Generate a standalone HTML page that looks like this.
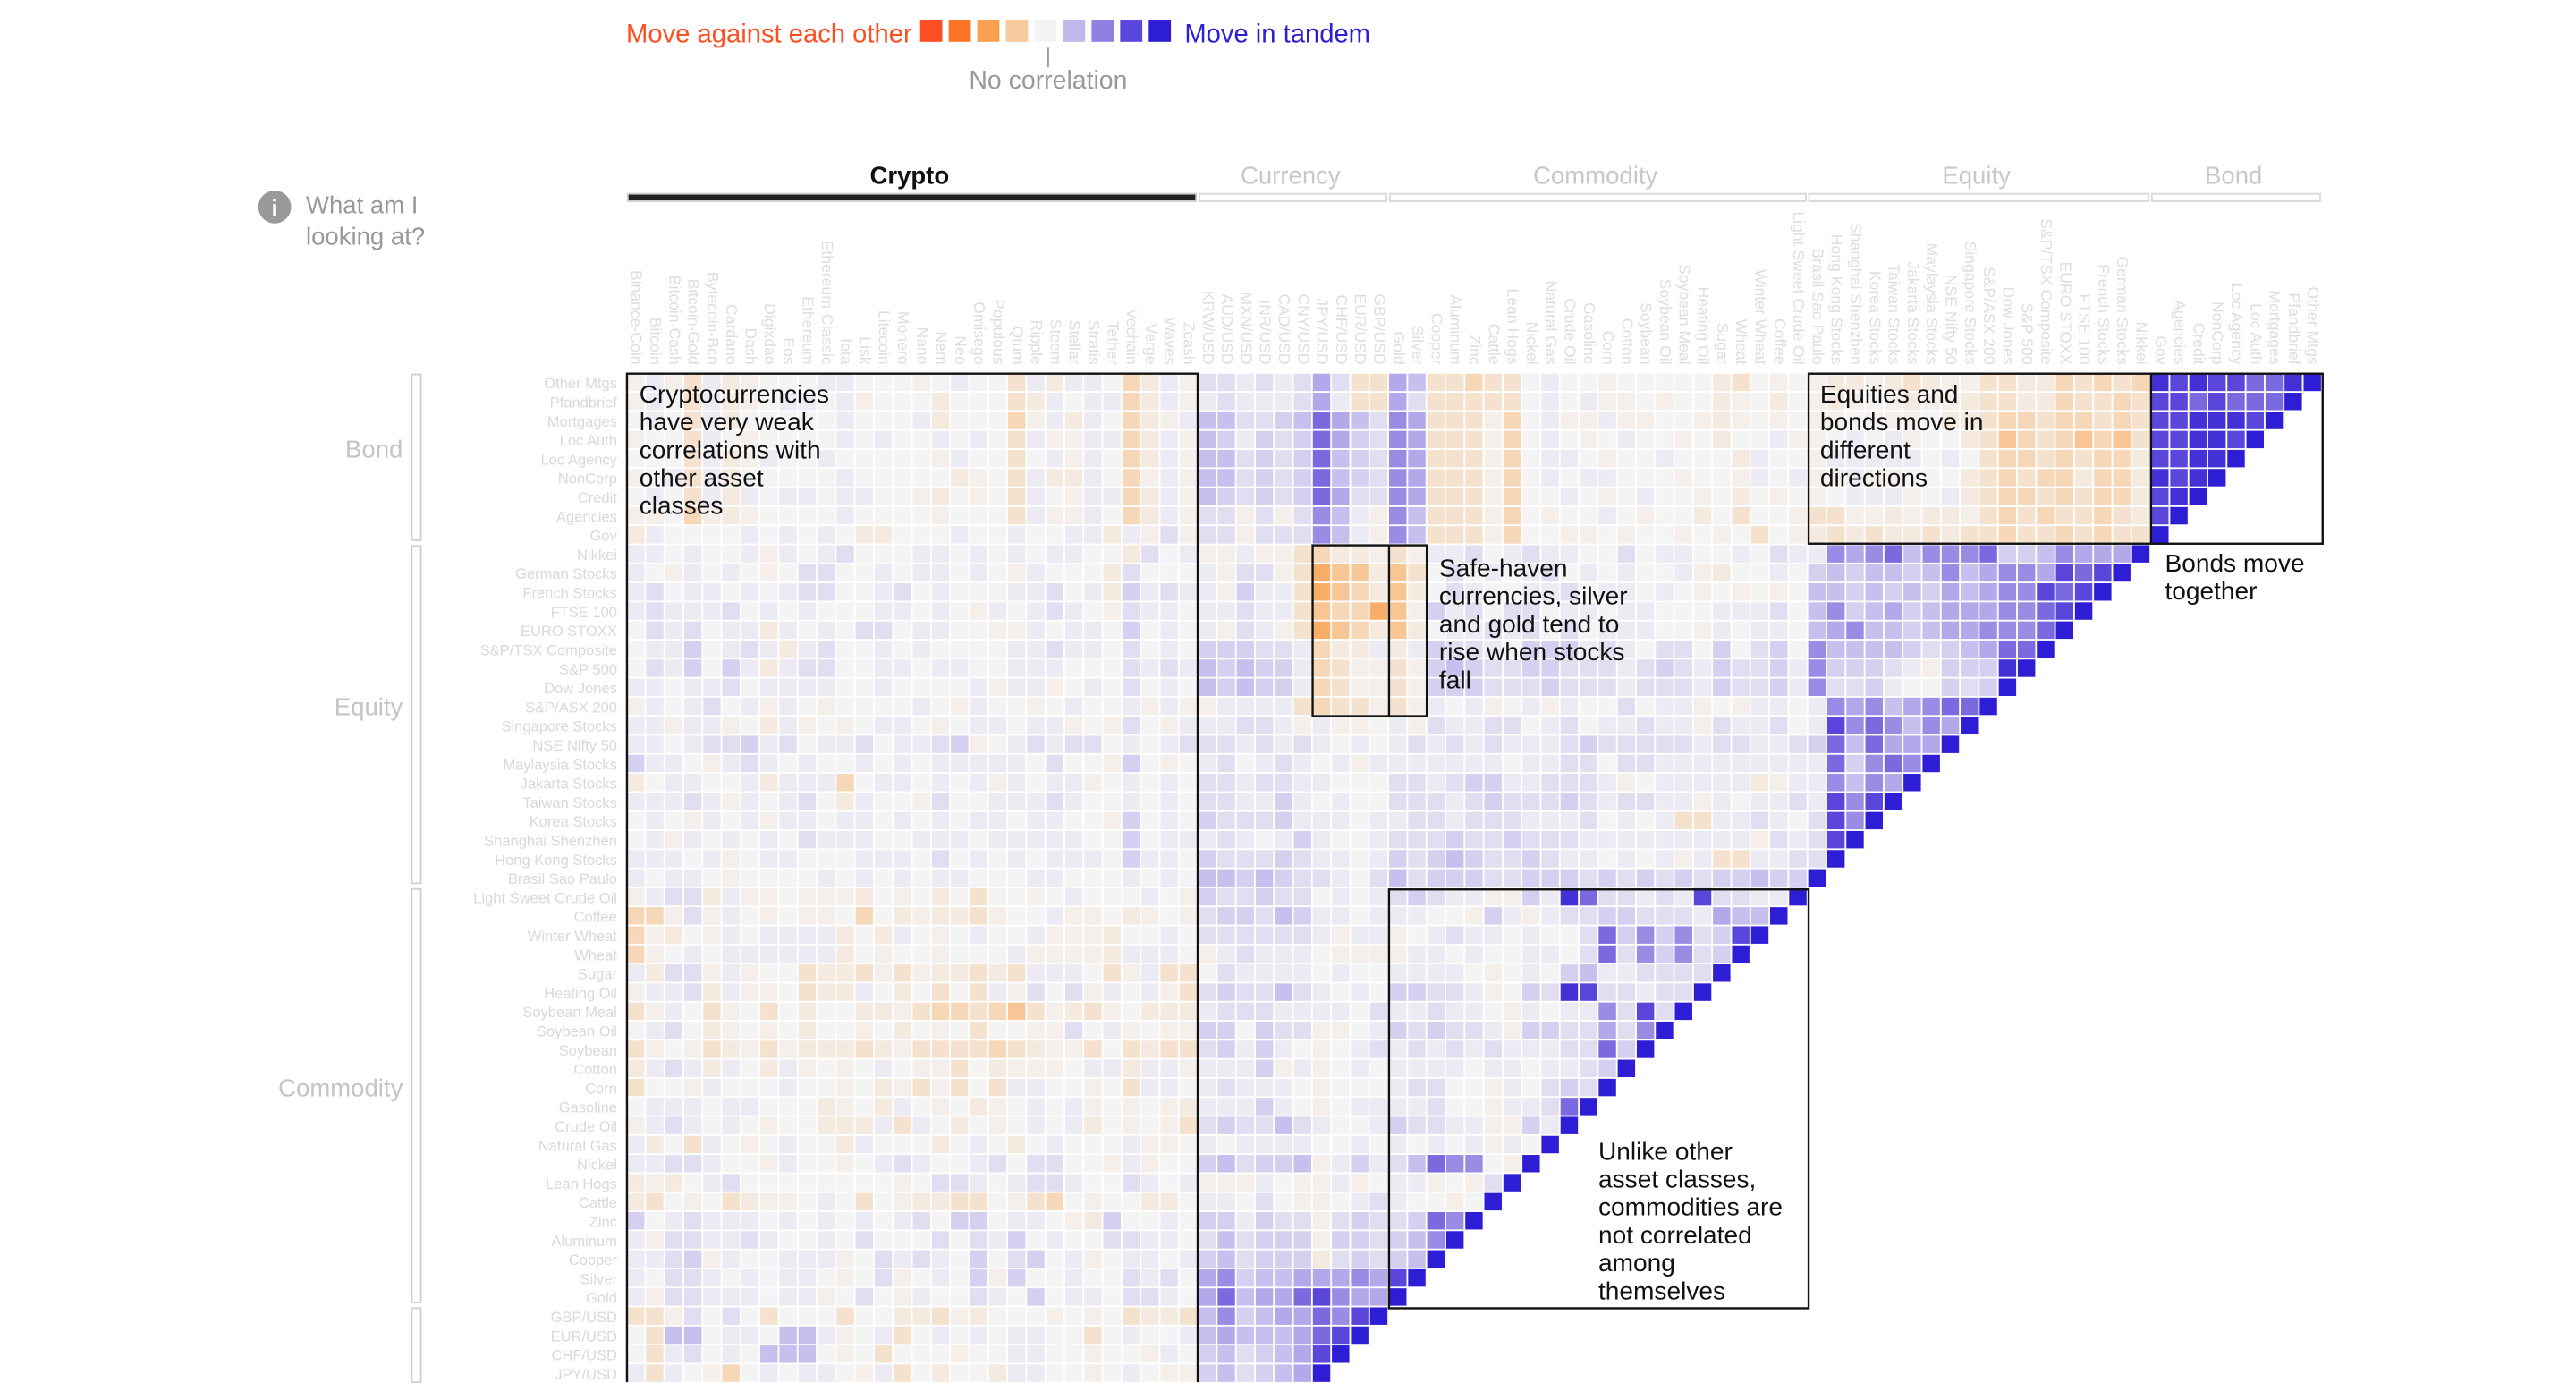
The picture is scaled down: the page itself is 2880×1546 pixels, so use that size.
<!DOCTYPE html>
<html><head><meta charset="utf-8"><style>
html,body{margin:0;padding:0;background:#fff;overflow:hidden;}
svg{display:block;font-family:"Liberation Sans",Arial,sans-serif;overflow:hidden;}
</style></head><body>
<svg id="chart" width="2880" height="1546" viewBox="0 0 1568 842" xmlns="http://www.w3.org/2000/svg">
<rect x="0" y="0" width="1568" height="842" fill="#fff"/>
<g>
<text x="381" y="26" font-size="15.9" fill="#fe4f22">Move against each other</text>
<g id="legendSwatches"></g>
<text x="721" y="26" font-size="15.9" fill="#2d1dd5">Move in tandem</text>
<line x1="638" y1="29" x2="638" y2="41" stroke="#999" stroke-width="1"/>
<text x="638" y="54" font-size="15.5" fill="#999" text-anchor="middle">No correlation</text>
</g>
<g>
<circle cx="167" cy="126" r="10" fill="#999"/>
<text x="167" y="131.5" font-size="14" font-weight="bold" fill="#fff" text-anchor="middle">i</text>
<text x="186" y="130" font-size="15" fill="#999">What am I</text>
<text x="186" y="149" font-size="15" fill="#999">looking at?</text>
</g>
<g id="tabs"></g>
<g id="colLabels"></g>
<g id="rowLabels"></g>
<g id="groupLabels"></g>
<g id="cells"></g>
<g id="boxes" fill="none" stroke="#111" stroke-width="1.3">
<path d="M381.5 841.5 V227.5 H729 V841.5"/>
<rect x="1101" y="227.5" width="313" height="103.5"/>
<line x1="1309.5" y1="227.5" x2="1309.5" y2="331"/>
<rect x="799" y="332" width="69.5" height="104"/>
<line x1="845.5" y1="332" x2="845.5" y2="436"/>
<rect x="845.5" y="541.5" width="255.5" height="255"/>
</g>
<g font-size="15.3" fill="#111">
<text x="389" y="245"><tspan x="389">Cryptocurrencies</tspan><tspan x="389" dy="17">have very weak</tspan><tspan x="389" dy="17">correlations with</tspan><tspan x="389" dy="17">other asset</tspan><tspan x="389" dy="17">classes</tspan></text>
<text x="1108" y="245"><tspan x="1108">Equities and</tspan><tspan x="1108" dy="17">bonds move in</tspan><tspan x="1108" dy="17">different</tspan><tspan x="1108" dy="17">directions</tspan></text>
<text x="1318" y="348"><tspan x="1318">Bonds move</tspan><tspan x="1318" dy="17">together</tspan></text>
<text x="876" y="351"><tspan x="876">Safe-haven</tspan><tspan x="876" dy="17">currencies, silver</tspan><tspan x="876" dy="17">and gold tend to</tspan><tspan x="876" dy="17">rise when stocks</tspan><tspan x="876" dy="17">fall</tspan></text>
<text x="973" y="706"><tspan x="973">Unlike other</tspan><tspan x="973" dy="17">asset classes,</tspan><tspan x="973" dy="17">commodities are</tspan><tspan x="973" dy="17">not correlated</tspan><tspan x="973" dy="17">among</tspan><tspan x="973" dy="17">themselves</tspan></text>
</g>
</svg>
<script>
// ---- data ----
const cryptoNames = ["Binance-Coin","Bitcoin","Bitcoin-Cash","Bitcoin-Gold","Bytecoin-Bcn","Cardano","Dash","Digixdao","Eos","Ethereum","Ethereum-Classic","Iota","Lisk","Litecoin","Monero","Nano","Nem","Neo","Omisego","Populous","Qtum","Ripple","Steem","Stellar","Stratis","Tether","Vechain","Verge","Waves","Zcash"];
const currencyNames = ["KRW/USD","AUD/USD","MXN/USD","INR/USD","CAD/USD","CNY/USD","JPY/USD","CHF/USD","EUR/USD","GBP/USD"];
const commodityNames = ["Gold","Silver","Copper","Aluminum","Zinc","Cattle","Lean Hogs","Nickel","Natural Gas","Crude Oil","Gasoline","Corn","Cotton","Soybean","Soybean Oil","Soybean Meal","Heating Oil","Sugar","Wheat","Winter Wheat","Coffee","Light Sweet Crude Oil"];
const equityNames = ["Brasil Sao Paulo","Hong Kong Stocks","Shanghai Shenzhen","Korea Stocks","Taiwan Stocks","Jakarta Stocks","Maylaysia Stocks","NSE Nifty 50","Singapore Stocks","S&P/ASX 200","Dow Jones","S&P 500","S&P/TSX Composite","EURO STOXX","FTSE 100","French Stocks","German Stocks","Nikkei"];
const bondNames = ["Gov","Agencies","Credit","NonCorp","Loc Agency","Loc Auth","Mortgages","Pfandbrief","Other Mtgs"];
const groupNames = ["Crypto","Currency","Commodity","Equity","Bond"];
const legendValues = [-1,-0.75,-0.5,-0.25,0,0.25,0.5,0.75,1];
// correlation codes -> values
const codeKeys   = [".","a","b","c","d","e","f","g","h","i","#","A","B","C","D","E","F"];
const codeValues = [0,0.04,0.09,0.15,0.22,0.32,0.45,0.6,0.75,0.88,1,-0.03,-0.06,-0.11,-0.17,-0.28,-0.42];
// rows top->bottom: Other Mtgs ... JPY/USD ; segments per column group
const cryptoRows = [
"AaACaBA...aa...A.a..CaBaa.DBaA","Aa.CaBA.aa.aA...B...CBa.aaDBaA",".a.CaB.....a...aB...DAaBa.DBAa","A..Ca.A....a.a..a.a.CaAAaaDBaA",
"...CaBAa..a.....Aa..C.aAa.DBaA","A.aCaB.....a.....BA.CaBBa.DAaA",".a.CaBa.aa.aa..AB.A.Ca.AaaDBaA","AA.DABA....a....A...CaAAa.DBaA",
"Ba....a.a.a.BB...a..a..aaBaAbA","aa.a..aAa.ab...aa.a.a.aa..Bb.a","a.Aa.a.A.bb..a.aa.a.Aa...Bb...","ab.aa.a.abb..ab.a...aab.aBcaba",
"abaaab.a.a...aa.a.Aa.aba.Abaa.",".bab.aaBa.a.bb.aa..AAa.aa.c.a.",".aac.abaBab..a.a....aabaa.b.a.",".bac.caBabb..aa.aa..aaa...baba",
"aa.aab.aaaa..a....aAaaA.a.b.a.","Aa.ab.aAa.A....a.Aa..A.a..aAaA","aaAaaA.BaA.A.aa.A.aa.aaA.Ab.Aa","aa.abbcab.aab.aabcA.ababb.a.ab",
"caa.Aaba.a..a.a.aaaaa.b..Ac.A.","B.aa..aBaaaD.aa.a.aAa.aaA.a.a.","aaabaAa.ab.Ba..Ab..aaaba..a.a.",".a.Aa.aAaa.aa.a.a.aa.aa..Ac.a.",
".aAa.a.a.baaa..aaa.aaaaa..c.aa","aaa.aA.aa...aaa.b.a.a.aaa.caa.","a.aa.A....a.a.a.aa...aa...a.a.","AabbBaAA.AAAB.A.B.C..A.a...a.A",
"DDAbAa.A.AA.D.BABBCA..aAA.BA.A","DAB.Aa.aaaaB.Ba.A.a..aAAAB..a.","DA.a.aaaaaaB.A..A...aAAAABaaa.","aBbbAaA..CBBCACABBCBCaaa.CAaCC",
"AaabBaAA.CBBa.B.C.CaAb.bAa.aAC","CAa.CA.C.B..BBACDDCDECABCA.BBB",".ab.BA.A.B..A.B.A.C..AAb.aA.AA","CA.ACBACABBBCBACCCCDCBAAC.CBCC",
"BabaBa.BaA.A.a.AAC.BAAA.aaBaaA","C..Aa...a..A.BACAC.Caa..A.Caa.",".aaa.aa...BA.Ba.A.BA.a.aA.A.AB","Aaba.a.A..BBBaCa.B.A.a.aB.A.AC",
"aB.Ca.A.a..Ba...B.a.B.a...aAA.","aabba..Aa..A.aba..ab.bb..AaA..","BAB.ab........A.bba.abba..ba.a","BC.A.CBAA.a.C.ABBCC.ACD.A..BB.",
"c.abaaa.a.a.a.ab.cc.aa.ABc..a.","aAbbaaba..a.b...b.bac.a..bbaa.","aabcAa..aaaA.baba.c.bc.aA.aa.a","a.bba.a.aa.A.bA.a.cAc..a..bab.",
"aAbbaaa.aaA.b.Aa..ba.c.aa.bba.","CCAb.b.C...C..BBCAB...A.A.CBBC",".Cdd.aa.ddaA.aC.a.a.aa..C.a..a",".Cab.a.ddd.A.C...A..aa..A..Aa.",
"aCa.AD.a.aa.AaC.B..Baa..A.a.AA"];
const currencyRows = [
"bbababebCC","abaaabeaCC","ddbbcdgedb","dcacbcgecb","ddbcbcgdcb","ddbcbcgdcb","dcbcbcgebb","bbAbAbfdaA","bbAbbbfdaA",
"AAaAACDBBA","aAbbACFEEB","aAcaaCFEDB","aabaaCEDDF","aAbaACFEDB","cccbbaDBBa","dcdccaDCAA","dcdccaDCAA","AaaaaCDCCA",
"aabbaAaAA.","bbababa.a.","ab.aba.aAa","bbabbaa...","bbaaca.a..","cbbbcaaa.a","aba.aca..a","cbbbcbaa.a","ddcdcbba.b",
"cbbcbb.a.a","bccbdcaa.a","bbbbbbaAaa","Aabaaa.AAA",".baaaa.a..","bcbbdba.a.","abbbaaaa.b","cc.cbbAA.a","bcaca.A.ab",
"aaacAaA.a.","abaaa.A...","aaaca.A.aa","bcbbdba..a","a.aaaa..a.","cdbccdAaca","AAAa.AAaA.","aa.b.AA.ab","ccacbbAbcb",
"bdbcccAccb","cdbcccBbcb","efcddeeefe","egdeeghfee","dfcdeegfh#","dedddegh#","cdbcdeh#","cdbcde#"];
const commodityRows = [
"edCCDCC.a..A.....BC.A.","ebCCCCC.a.aAA.A..BA.B.","feCCCAD.aAAaAA..ABA.A.","feCCCAD.a.A.a..A.B..aA","feCCCAD.aa.A..a...Ba..",
"feCCCAD.a.aa...A..Aa.a","feCCCAD..a.A.a..A.B.A.","fdCCCAD.A..a.A..B.C..A","fdCCCAD..AA.A..A.A.C.A",
"CAaab.abaa..b.aa..a.ba","EC.b.a.ab.a.a..aAB..a.","EB.ba..aab.aa.a.A.A.A.","EAcab.bb.aa.aa...aaab.","EB.aabab.b.aaa..Aa.aa.",
"Bacbba.cccaba.bb.c.bc.","CAcdcbbccbbbabcbacbbca","CAcccbbbcbbbabbbacbbca","CAa.aA.aAa..b.aaA.Aaa.","aAbaabb.ab.aabaaAbaab.",
"abababaaabcbbbbbabbaab","aaaaaa.aabb.bbaaaaaaaa","bbabccaabbbaA.aaaaaBAa","bbbabcbbbcbabbaaAa.aab","abbabbbaaab.a.aCCaaba.",
"bbbcbbcbbbaaaaaaaaaAba","cbcdcbbcbaa.a.aAaCCaab","dbcccbbcccbcbcbcbccdcc",
"bcbaaAAcaigbbabahbbaa#","aa..AcaAabbccbbbaedd#","A.abaa.a..bgcfcfbch#","Aaa.a..aa.bgbfcfbc#","aaaa.A.a.cdaabbbb#",
"ccbbaA.cbihbbabb#","aabaa.Aa.aafbhb#","cbcbbaAccbbebf#","abababaaabbgc#","aaaa.aa.aabc#","abb..Aa.bcb#",
"aab..Aaabg#","cbbaaAAca#","a.a.aAa.#","bdgff.A#","aaA.Ab#","a..A.#","bcgf#","cdf#","cd#","h#","#",
"","","",""];
const equityRows = [
"ABBABCBAACCBBDCDCD","ABA.ABAABCCBBDCCDC","AA.AAA.BBCDDCDDCDC","A.a.aA..BCEDCDEDEC","Aaaaaa.a.CDDCDCDDB",
"AAaAA...BCDCDDBDDB","A.aaaA.aBCDDCDCDDB","CCAABABBACDCDCCDCB","BCBCBBCBCCDCCDCDCC",
"afefgdfffgccdfeee#","cdcddcdfdeffehgh#","ddcdcdcedeffhgh#","dfcdecdeeeffgh#","defddcdeefffg#","fddddcbcdegg#",
"fcccbaAccci#","fbbca..cbc#","afefdefgg#","ahfgfdfe#","cgdgeee#","agcfgf#","afdfe#","ahfh#","bhf#","bh#","b#","#"];
const bondRows = ["ihihhggi#","hhghggg#","hhiiih#","hhiih#","hhii#","ihi#","hi#","h#","#"];

// ---- layout ----
const allNames = [].concat(cryptoNames, currencyNames, commodityNames, equityNames, bondNames);
const groupSizes = [cryptoNames.length, currencyNames.length, commodityNames.length, equityNames.length, bondNames.length];
const N = allNames.length;
const X0 = 381.5, Y0 = 227.5, CW = (1414 - 381.5) / 89;
const BOTTOM = 841.5;
const NS = "http://www.w3.org/2000/svg";
function xScale(c){ return X0 + c * CW; }
function yScale(r){ return Y0 + r * CW; }
function mk(tag, attrs, parent){ const e = document.createElementNS(NS, tag); for (const k in attrs) e.setAttribute(k, attrs[k]); parent.appendChild(e); return e; }
const negStops = ["#f4f4f4","#f7cb9d","#f9a050","#fc7424","#fe4f22"];
const posStops = ["#f4f4f4","#c1b8ec","#9080e3","#5a46da","#2d1dd5"];
function hex(h){ return [1,3,5].map(i => parseInt(h.substr(i,2),16)); }
function color(v){
  const stops = v < 0 ? negStops : posStops;
  let t = Math.min(1, Math.abs(v)) * 4; const i = Math.min(3, Math.floor(t)); const f = t - i;
  const a = hex(stops[i]), b = hex(stops[i+1]);
  return "rgb(" + a.map((x,k) => Math.round(x + (b[k]-x)*f)).join(",") + ")";
}
// legend
const lg = document.getElementById("legendSwatches");
legendValues.forEach((v,i) => {
  const r = mk("rect", {x: 560 + i*17.4, y: 12, width: 13.5, height: 13.5, fill: color(v)}, lg);
  
  
});
// tabs
const tabs = document.getElementById("tabs");
let start = 0;
groupNames.forEach((g,i) => {
  const x1 = xScale(start), x2 = xScale(start + groupSizes[i]);
  const t = mk("g", {}, tabs);
  
  
  mk("rect", {x: x1 + 0.5, y: 118, width: x2 - x1 - 2, height: 4.5, fill: i === 0 ? "#222" : "#fff", stroke: i === 0 ? "#ccc" : "#d8d8d8", "stroke-width": 1}, t);
  const tx = mk("text", {x: (x1 + x2)/2 - 2, y: 112, "font-size": 15, "text-anchor": "middle", fill: i === 0 ? "#111" : "#c8c8c8", "font-weight": i === 0 ? "bold" : "normal"}, t);
  tx.textContent = g;
  start += groupSizes[i];
});
// column labels
const cl = document.getElementById("colLabels");
allNames.forEach((n,c) => {
  const x = xScale(c) + CW/2 - 3.2;
  const t = mk("text", {x: 0, y: 0, transform: "translate(" + x + ",222) rotate(90)", "text-anchor": "end", "font-size": 9.6, fill: "#dedede"}, cl);
  t.textContent = n;
  
  
});
// rows
const cellsG = document.getElementById("cells");
const rl = document.getElementById("rowLabels");
const nRows = cryptoRows.length;
for (let r = 0; r < nRows; r++){
  const segs = [cryptoRows[r], currencyRows[r], commodityRows[r] || "", equityRows[r] || "", bondRows[r] || ""];
  let row = "";
  segs.forEach((s,i) => { row += (s + ".".repeat(groupSizes[i])).slice(0, groupSizes[i]); });
  const len = N - r;
  const lbl = mk("text", {x: 375.5, y: yScale(r) + CW/2 + 3.2, "text-anchor": "end", "font-size": 9, fill: "#d9d9d9"}, rl);
  lbl.textContent = allNames[N - 1 - r];
  
  
  for (let c = 0; c < len; c++){
    const code = c === len - 1 ? "#" : row[c];
    let k = codeKeys.indexOf(code); if (k < 0) k = 0;
    const v = codeValues[k];
    const h = Math.min(CW - 1, BOTTOM - yScale(r));
    const cell = mk("rect", {x: xScale(c), y: yScale(r), width: CW - 1, height: h, fill: color(v)}, cellsG);
    
    
  }
}
// group side labels with brackets
const gl = document.getElementById("groupLabels");
const sideGroups = [["Bond",9],["Equity",18],["Commodity",22],["Currency",10]];
let rs = 0;
sideGroups.forEach(([g,n]) => {
  const y1 = yScale(rs), y2 = yScale(rs + n);
  const grp = mk("g", {}, gl);
  
  
  const yEnd = Math.min(y2 - 3, BOTTOM);
  mk("rect", {x: 250.5, y: y1 + 0.5, width: 5.5, height: yEnd - y1 - 0.5, fill: "none", stroke: "#cfcfcf", "stroke-width": 1}, grp);
  if (g !== "Currency") {
    const t = mk("text", {x: 245, y: (y1 + y2)/2 - 1, "text-anchor": "end", "font-size": 15, fill: "#c4c4c4"}, grp);
    t.textContent = g;
  }
  rs += n;
});
</script>
</body></html>
